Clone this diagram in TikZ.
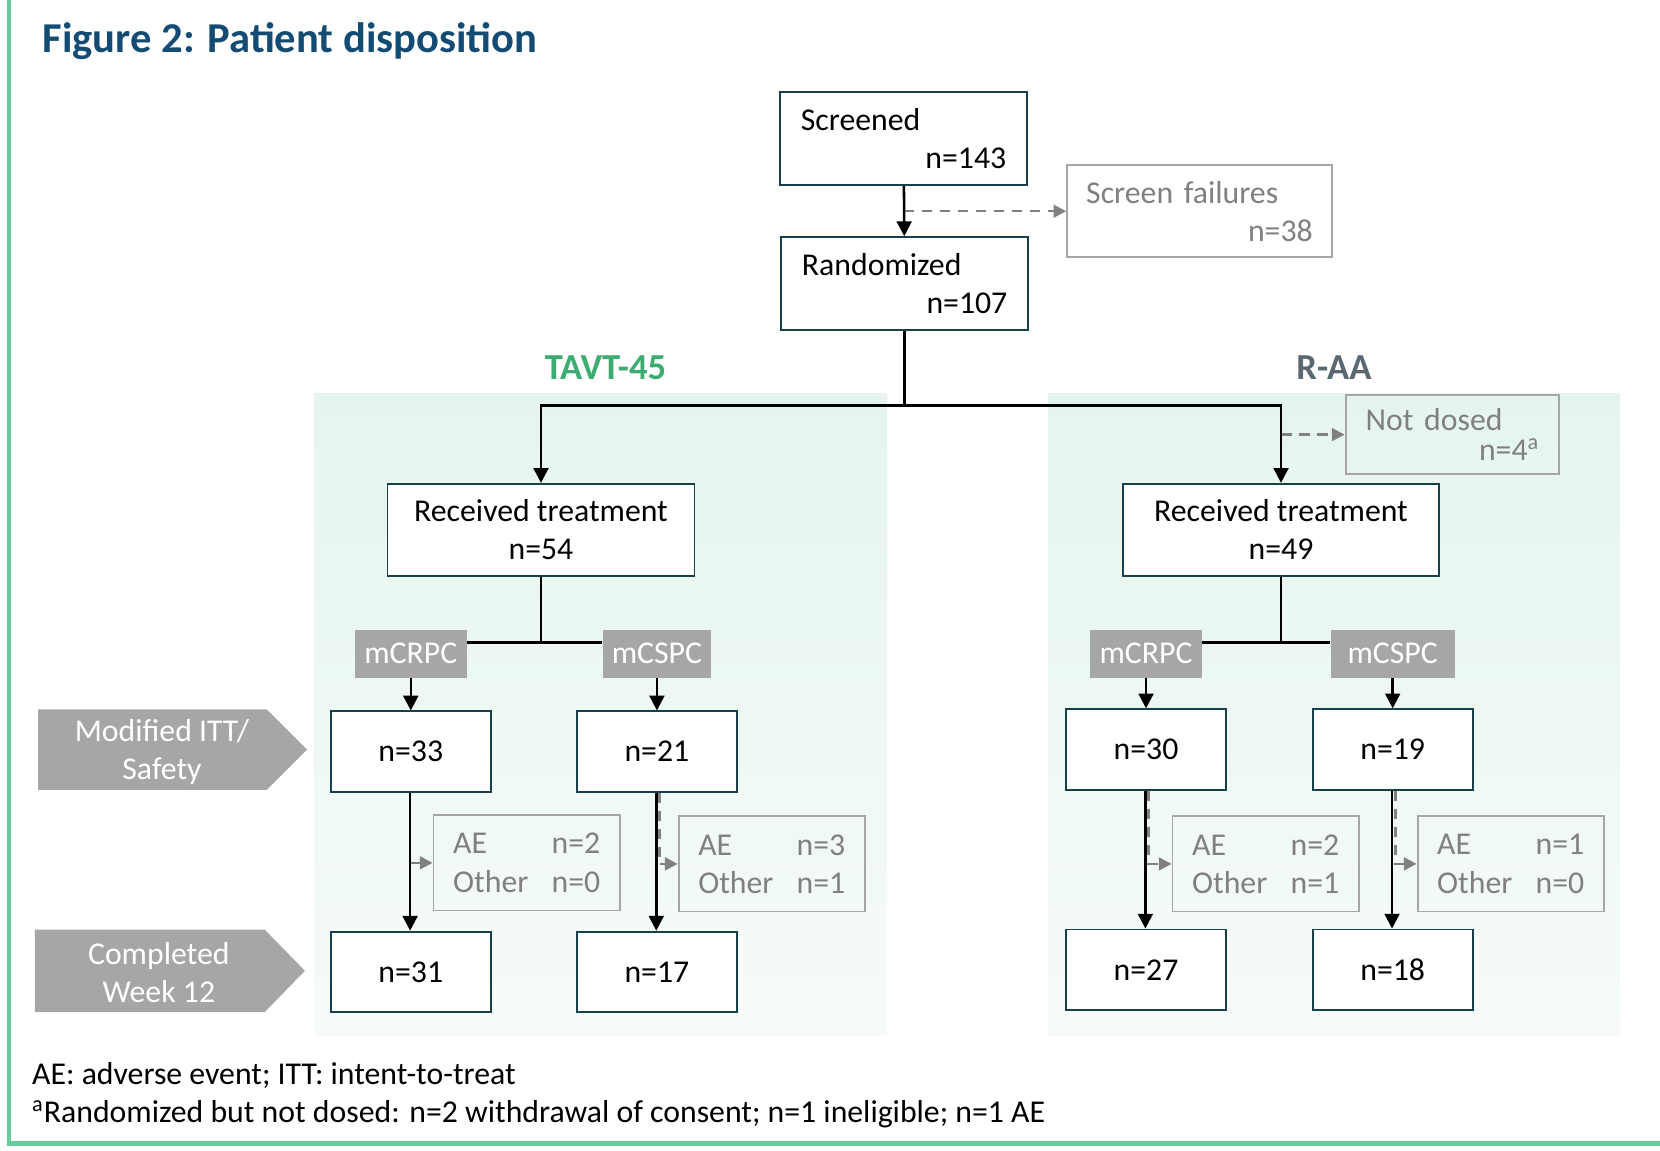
\documentclass[tikz,border=0pt]{standalone}
\usepackage{fontspec}
\setmainfont{Carlito}
\usetikzlibrary{arrows.meta}

\definecolor{boxline}{RGB}{23,64,77}
\definecolor{titleblue}{RGB}{20,75,115}
\definecolor{armgreen}{RGB}{60,172,112}
\definecolor{armgray}{RGB}{90,104,114}
\definecolor{labelgray}{RGB}{166,166,166}
\definecolor{midgray}{RGB}{128,128,128}
\definecolor{framegreen}{RGB}{102,204,153}
\definecolor{paneltop}{RGB}{229,245,238}
\definecolor{panelbot}{RGB}{246,251,249}

\tikzset{
  txt/.style={font=\fontsize{15}{18}\selectfont},
  box/.style={txt, draw=boxline, line width=0.9pt, fill=white, inner sep=0pt, align=center},
  nbox/.style={box, minimum width=75.5pt, minimum height=38pt},
  greybox/.style={txt, draw=labelgray, line width=0.9pt, text=midgray, inner sep=0pt},
  aebox/.style={greybox, minimum width=88pt, minimum height=45pt, align=left},
  armtag/.style={txt, fill=labelgray, text=white, inner sep=0pt, minimum height=22.5pt},
  arr/.style={-{Triangle[length=7pt,width=7pt]}, line width=1.2pt},
  dasharr/.style={-{Triangle[length=6pt,width=6pt]}, draw=midgray, line width=1.2pt, dash pattern=on 5pt off 3.5pt},
}

\begin{document}
\begin{tikzpicture}[x=0.5pt, y=-0.5pt]
  \useasboundingbox (0,0) rectangle (1568,1087);

  \fill[top color=paneltop, bottom color=panelbot] (297,372) rectangle (838,978);
  \fill[top color=paneltop, bottom color=panelbot] (990,372) rectangle (1530,978);
  \draw[framegreen, line width=2pt] (8.5,0) -- (8.5,1080) -- (1568,1080);

  \node[anchor=base west, inner sep=0pt, font=\fontsize{20.1}{24}\bfseries\selectfont, text=titleblue] (title) at (40,50) {Figure 2: Patient disposition};
  \node[font=\fontsize{17.3}{18}\bfseries\selectfont, text=armgreen] (tavt) at (572,347) {TAVT-45};
  \node[font=\fontsize{17.3}{18}\bfseries\selectfont, text=armgray] (raa) at (1260,347) {R-AA};

  \fill[labelgray] (36,670) -- (252,670) -- (290,708) -- (252,746) -- (36,746) -- cycle;
  \node[txt, text=white, align=center] (itt) at (153,710) {Modified ITT/\\Safety};
  \fill[labelgray] (33,878) -- (250,878) -- (288,917) -- (250,956) -- (33,956) -- cycle;
  \node[txt, text=white, align=center] (wk12) at (150,919) {Completed\\Week 12};

  \node[box, minimum width=116.5pt, minimum height=44pt, text width=97pt, align=left] (screened) at (853.5,131) {Screened\\\hspace*{\fill}n=143};
  \node[greybox, minimum width=125pt, minimum height=43.5pt, text width=107pt, align=left] (fail) at (1133,199.5) {Screen failures\\\hspace*{\fill}n=38};
  \node[box, minimum width=116.5pt, minimum height=44pt, text width=97pt, align=left] (rand) at (854.5,268) {Randomized\\\hspace*{\fill}n=107};
  \node[greybox, font=\fontsize{15}{14}\selectfont, minimum width=101pt, minimum height=37.5pt, text width=82pt, align=left] (notdosed) at (1372,410.5) {Not dosed\\\hspace*{\fill}n=4\textsuperscript{a}};

  \node[box, minimum width=145pt, minimum height=43.5pt] (rtL) at (511,500.5) {Received treatment\\n=54};
  \node[box, minimum width=149pt, minimum height=43.5pt] (rtR) at (1210,500.5) {Received treatment\\n=49};

  \node[armtag, minimum width=53pt] (crpcL) at (388,617.5) {mCRPC};
  \node[armtag, minimum width=51pt] (cspcL) at (620.5,617.5) {mCSPC};
  \node[armtag, minimum width=52.5pt] (crpcR) at (1082.5,617.5) {mCRPC};
  \node[armtag, minimum width=58.5pt] (cspcR) at (1315.5,617.5) {mCSPC};

  \node[aebox] (aeL1) at (497.5,815) {\makebox[46.5pt][l]{AE}n=2\\\makebox[46.5pt][l]{Other}n=0};
  \node[aebox] (aeL2) at (729,816) {\makebox[46.5pt][l]{AE}n=3\\\makebox[46.5pt][l]{Other}n=1};
  \node[aebox] (aeR1) at (1195.5,816) {\makebox[46.5pt][l]{AE}n=2\\\makebox[46.5pt][l]{Other}n=1};
  \node[aebox] (aeR2) at (1427,816) {\makebox[46.5pt][l]{AE}n=1\\\makebox[46.5pt][l]{Other}n=0};

  \node[nbox] (n33) at (388,710) {n=33};
  \node[nbox] (n21) at (620.5,710) {n=21};
  \node[nbox] (n31) at (388,918) {n=31};
  \node[nbox] (n17) at (620.5,918) {n=17};
  \node[nbox] (n30) at (1082.5,708) {n=30};
  \node[nbox] (n19) at (1315.5,708) {n=19};
  \node[nbox] (n27) at (1082.5,916) {n=27};
  \node[nbox] (n18) at (1315.5,916) {n=18};

  \coordinate (split) at (854.5,383);
  \coordinate (jL) at (511,607);
  \coordinate (jR) at (1210,607);

  \draw[dasharr] (screened.south |- fail.west) -- (fail.west);
  \draw[dasharr] (rtR.north |- notdosed.west) -- (notdosed.west);
  \draw[dasharr] (n33.south |- aeL1.west) -- (aeL1.west);
  \draw[dasharr] ([xshift=1.2pt]n21.south) |- (aeL2.west);
  \draw[dasharr] ([xshift=1.2pt]n30.south) |- (aeR1.west);
  \draw[dasharr] ([xshift=1.2pt]n19.south) |- (aeR2.west);

  \draw[arr] (screened) -- (rand);
  \draw[line width=1.2pt] (rand.south) -- (split);
  \draw[arr] (split) -| (rtL.north);
  \draw[arr] (split) -| (rtR.north);

  \draw[line width=1.2pt] (rtL.south) -- (jL);
  \draw[line width=1.2pt] (crpcL.east |- jL) -- (cspcL.west |- jL);
  \draw[line width=1.2pt] (rtR.south) -- (jR);
  \draw[line width=1.2pt] (crpcR.east |- jR) -- (cspcR.west |- jR);

  \draw[arr] (crpcL) -- (n33);
  \draw[arr] (cspcL) -- (n21);
  \draw[arr] (crpcR) -- (n30);
  \draw[arr] (cspcR) -- (n19);
  \draw[arr] ([xshift=-0.3pt]n33.south) -- ([xshift=-0.3pt]n31.north);
  \draw[arr] ([xshift=-0.3pt]n21.south) -- ([xshift=-0.3pt]n17.north);
  \draw[arr] ([xshift=-0.3pt]n30.south) -- ([xshift=-0.3pt]n27.north);
  \draw[arr] ([xshift=-0.3pt]n19.south) -- ([xshift=-0.3pt]n18.north);

  \node[txt, anchor=base west, inner sep=0pt] (fn1) at (30,1024) {AE: adverse event; ITT: intent-to-treat};
  \node[txt, anchor=base west, inner sep=0pt] (fn2) at (30,1060) {\textsuperscript{a}Randomized but not dosed: n=2 withdrawal of consent; n=1 ineligible; n=1 AE};
\end{tikzpicture}
\end{document}
